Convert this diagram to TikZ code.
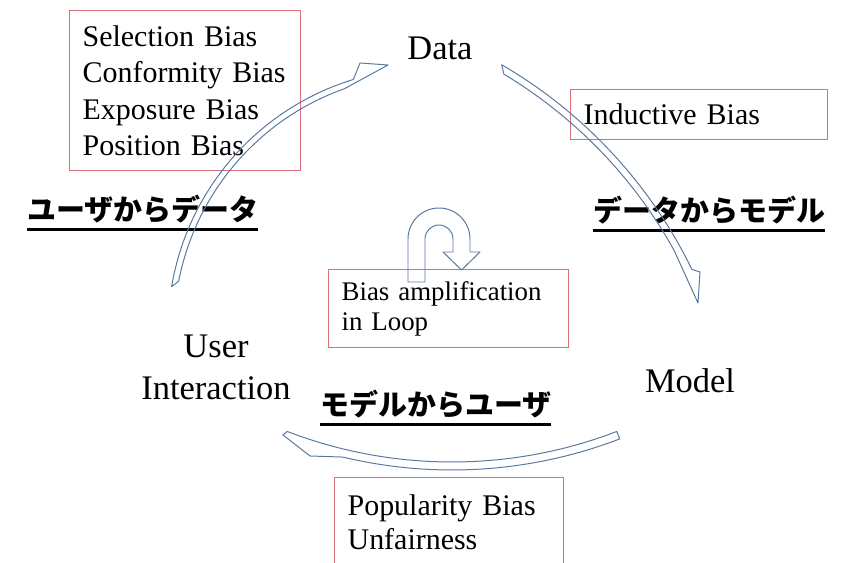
\documentclass[tikz,border=0pt]{standalone}
\usepackage{fontspec}
\setmainfont{Liberation Serif}
\newfontfamily\jpfont{Noto Sans CJK JP}
\usepackage{tikz}
\usetikzlibrary{positioning}
\definecolor{boxred}{HTML}{D9707A}
\definecolor{loopblue}{HTML}{58799E}
\newsavebox\jpbox
\newcommand{\jpuline}[1]{\sbox\jpbox{#1}\rlap{\rule[-7pt]{\wd\jpbox}{1.8pt}}\usebox\jpbox}

\begin{document}
\begin{tikzpicture}[
  x=0.025cm, y=-0.025cm,
  stage/.style={font=\fontsize{24.5pt}{29.8pt}\selectfont, align=center, inner sep=0pt},
  biasbox/.style={draw=boxred, line width=0.9pt, align=left, anchor=north west,
                  inner ysep=0pt, inner xsep=0.325cm,
                  font=\fontsize{21.3pt}{25.9pt}\selectfont},
  jplabel/.style={font=\jpfont\bfseries\fontsize{20.6pt}{24pt}\selectfont,
                  inner sep=0pt, anchor=base west},
  hollow/.style={draw=loopblue, line width=0.7pt, line join=round},
]
\useasboundingbox (0,0) rectangle (844,563);

%% STAGES
\node[stage, anchor=base] (data)  at (440,60)  {Data};
\node[stage, anchor=base] (model) at (690,393) {Model};
\node[stage]              (user)  at (216,367) {User\\Interaction};

%% BIAS BOXES
\node[biasbox, text width=5.125cm, minimum height=4cm] (selbias) at (69,10)
  {Selection Bias\\Conformity Bias\\Exposure Bias\\Position Bias};
\node[biasbox, text width=5.775cm, minimum height=1.25cm] (indbias) at (570,89)
  {Inductive Bias};
\node[biasbox, text width=5.35cm, minimum height=1.95cm,
      font=\fontsize{19.1pt}{21.3pt}\selectfont] (loopbias) at (328,269)
  {Bias amplification\\in Loop};
\node[biasbox, text width=5.075cm, minimum height=2.225cm,
      font=\fontsize{21.3pt}{24.1pt}\selectfont] (popbias) at (334,477)
  {Popularity Bias\\Unfairness};

%% JAPANESE LABELS
\node[jplabel] (udlbl) at (27,221)  {\jpuline{ユーザからデータ}};
\node[jplabel] (dmlbl) at (593,222) {\jpuline{データからモデル}};
\node[jplabel] (mulbl) at (320,416) {\jpuline{モデルからユーザ}};

%% CURVED ARROWS
\coordinate (udc) at (430,330);
\coordinate (dmc) at (260,480);
\coordinate (muc) at (452,2);

% user -> data
\draw[hollow] ([shift={(udc)}]189.5:262) arc[start angle=189.5, end angle=253, radius=262]
  -- (360,63) -- (388,65)
  -- ([shift={(udc)}]250.5:256) arc[start angle=250.5, end angle=191, radius=256] -- cycle;

% data -> model
\draw[hollow] ([shift={(dmc)}]-59.8:480.5) arc[start angle=-59.8, end angle=-26, radius=480.5]
  -- (700,272) -- (698,303)
  -- ([shift={(dmc)}]-29:473.5) arc[start angle=-29, end angle=-59, radius=473.5] -- cycle;

% model -> user
\draw[hollow] ([shift={(muc)}]69:468) arc[start angle=69, end angle=103.5, radius=468]
  -- (310,456) -- (283,435)
  -- ([shift={(muc)}]111:460) arc[start angle=111, end angle=69, radius=460] -- cycle;

%% LOOP ARROW
\draw[hollow] (408,282) -- (408,239) arc[start angle=180, end angle=360, radius=31]
  -- (470,252) -- (480,252) -- (461.5,270) -- (443,252) -- (453,252) -- (453,239)
  arc[start angle=0, end angle=-180, radius=14] -- (425,282) -- cycle;

\end{tikzpicture}
\end{document}
